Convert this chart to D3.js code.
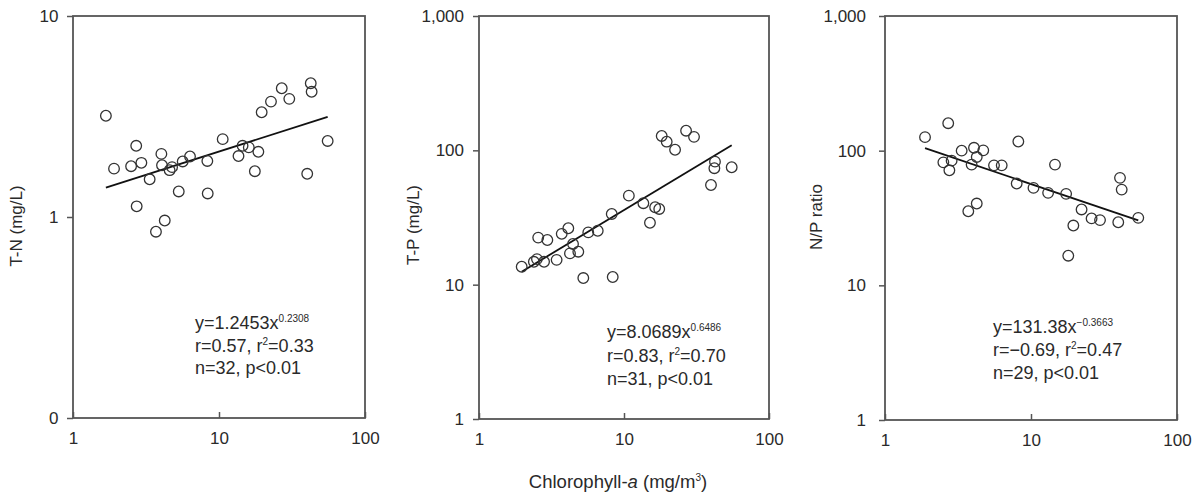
<!DOCTYPE html>
<html><head><meta charset="utf-8">
<script src="https://cdn.jsdelivr.net/npm/d3@7"></script>
<style>
body{margin:0;background:#fff}
svg{display:block;font-family:"Liberation Sans",Arial,Helvetica,sans-serif}
</style>
</head><body>
<svg id="chart" width="1202" height="493"></svg>
<script>
// ---- data ----
const xTicks = [1, 10, 100];
const xTickLabels = ["1", "10", "100"];

const tnChl = [1.68,1.91,2.71,2.50,2.94,2.73,3.35,4.03,4.07,4.25,3.70,4.59,5.30,5.64,6.33,8.32,8.37,10.6,13.6,14.5,16.0,18.6,17.6,19.6,22.7,26.9,30.3,42.5,43.1,40.2,55.5,4.77];
const tnVal = [3.19,1.74,2.26,1.79,1.86,1.13,1.54,2.06,1.81,0.96,0.845,1.71,1.34,1.89,2.00,1.90,1.31,2.44,2.01,2.26,2.22,2.11,1.69,3.32,3.75,4.37,3.87,4.63,4.20,1.64,2.39,1.77];
const tnFitX = [1.68, 55.5];
const tnFitY = [1.40, 3.15];
const tnTicks = [0.1, 1, 10];
const tnTickLabels = ["0", "1", "10"];

const tpChl = [1.97,2.81,2.51,3.43,2.56,2.96,3.72,4.13,4.24,4.84,5.67,6.59,8.23,5.24,8.36,10.8,13.6,16.4,17.5,15.1,18.2,19.7,22.5,26.8,30.4,42.4,42.0,55.3,39.8,4.45,2.39];
const tpVal = [13.6,14.8,15.5,15.3,22.4,21.5,23.9,26.3,17.1,17.6,24.5,25.2,33.6,11.2,11.4,46.0,40.4,37.7,36.6,28.9,128,116,101,140,126,82.4,73.6,74.8,55.2,20.1,14.8];
const tpFitX = [1.97, 55.3];
const tpFitY = [12.5, 109];
const tpTicks = [1, 10, 100, 1000];
const tpTickLabels = ["1", "10", "100", "1,000"];

const npChl = [1.88,2.71,2.51,2.76,3.35,4.07,4.71,4.25,3.92,5.58,6.30,8.19,7.98,10.4,13.1,17.4,14.6,3.72,4.25,22.2,26.0,29.7,19.5,18.0,39.6,54.3,40.7,41.8,2.86];
const npVal = [126,160,81.9,71.5,100,105,100.5,89.8,78.8,77.8,77.8,117,57,52.9,48.6,47.8,78.8,35.5,40.5,36.6,31.4,30.5,27.8,16.6,29.4,31.7,62.8,51.4,84.3];
const npFitX = [1.88, 54.3];
const npFitY = [104.3, 30.4];
const npTicks = [1, 10, 100, 1000];
const npTickLabels = ["1", "10", "100", "1,000"];

const yTitles = ["T-N (mg/L)", "T-P (mg/L)", "N/P ratio"];
// annotation lines: [text, superscript, text-after]
const annot = [
  [["y=1.2453x", "0.2308", ""], ["r=0.57, r", "2", "=0.33"], ["n=32, p<0.01", "", ""]],
  [["y=8.0689x", "0.6486", ""], ["r=0.83, r", "2", "=0.70"], ["n=31, p<0.01", "", ""]],
  [["y=131.38x", "\u22120.3663", ""], ["r=\u22120.69, r", "2", "=0.47"], ["n=29, p<0.01", "", ""]]
];

// ---- layout ----
const panels = [
  {x: tnChl, y: tnVal, fx: tnFitX, fy: tnFitY, ticks: tnTicks, labels: tnTickLabels,
   L: 73, R: 365, T: 16, B: 418, pad: 8.5, titleX: 16, titleY: 226, ax: 195, ay: [329, 352, 374]},
  {x: tpChl, y: tpVal, fx: tpFitX, fy: tpFitY, ticks: tpTicks, labels: tpTickLabels,
   L: 479, R: 769, T: 16, B: 419, pad: 9, titleX: 413, titleY: 225, ax: 607, ay: [338, 362, 385]},
  {x: npChl, y: npVal, fx: npFitX, fy: npFitY, ticks: npTicks, labels: npTickLabels,
   L: 885, R: 1177, T: 16, B: 420, pad: 13, titleX: 816, titleY: 217, ax: 993, ay: [333, 356, 379]}
];

const svg = d3.select("#chart");
const ink = "#2a2a2a";
const FS = 17;
const AFS = 18;

panels.forEach((p, i) => {
  const xs = d3.scaleLog().domain([1, 100]).range([p.L, p.R]);
  const ys = d3.scaleLog().domain([p.ticks[0], p.ticks[p.ticks.length - 1]]).range([p.B, p.T]);
  const g = svg.append("g");

  // y axis
  const ya = d3.axisLeft(ys).tickValues(p.ticks).tickFormat((d, j) => p.labels[j]).tickSize(6).tickPadding(p.pad);
  const yg = g.append("g").attr("transform", `translate(${p.L},0)`).call(ya);
  yg.select(".domain").remove();
  yg.selectAll("line").attr("stroke", "#555").attr("stroke-width", 1.5);
  yg.selectAll("text").attr("font-size", FS).attr("fill", ink).attr("font-family", null);

  // x axis
  const xa = d3.axisBottom(xs).tickValues(xTicks).tickFormat((d, j) => xTickLabels[j]).tickSize(-6).tickPadding(14);
  const xg = g.append("g").attr("transform", `translate(0,${p.B})`).call(xa);
  xg.select(".domain").remove();
  xg.selectAll("line").attr("stroke", "#555").attr("stroke-width", 1.5);
  xg.selectAll("text").attr("font-size", FS).attr("fill", ink).attr("font-family", null);

  // frame
  g.append("rect").attr("x", p.L).attr("y", p.T).attr("width", p.R - p.L).attr("height", p.B - p.T)
    .attr("fill", "none").attr("stroke", "#555").attr("stroke-width", 1.8);

  // fit line
  g.append("line")
    .attr("x1", xs(p.fx[0])).attr("y1", ys(p.fy[0]))
    .attr("x2", xs(p.fx[1])).attr("y2", ys(p.fy[1]))
    .attr("stroke", "#111").attr("stroke-width", 1.8);

  // points
  g.selectAll("circle.pt").data(p.x.map((v, k) => [v, p.y[k]])).join("circle")
    .attr("class", "pt")
    .attr("cx", d => xs(d[0])).attr("cy", d => ys(d[1])).attr("r", 5.3)
    .attr("fill", "none").attr("stroke", "#333").attr("stroke-width", 1.3);

  // y title
  g.append("text").attr("transform", `translate(${p.titleX},${p.titleY}) rotate(-90)`)
    .attr("text-anchor", "middle").attr("dy", "0.35em").attr("font-size", FS).attr("fill", ink)
    .text(yTitles[i]);

  // annotation
  annot[i].forEach((ln, k) => {
    const t = g.append("text").attr("x", p.ax).attr("y", p.ay[k]).attr("font-size", AFS).attr("fill", ink);
    t.append("tspan").text(ln[0]);
    if (ln[1]) t.append("tspan").attr("font-size", 10).attr("dy", -7).text(ln[1]);
    if (ln[2]) t.append("tspan").attr("dy", 7).text(ln[2]);
  });
});

// x title
const xt = svg.append("text").attr("x", 618).attr("y", 488).attr("text-anchor", "middle")
  .attr("font-size", 18.5).attr("fill", ink);
xt.append("tspan").text("Chlorophyll-");
xt.append("tspan").attr("font-style", "italic").text("a");
xt.append("tspan").text(" (mg/m");
xt.append("tspan").attr("font-size", 10).attr("dy", -7).text("3");
xt.append("tspan").attr("dy", 7).text(")");
</script>
</body></html>
